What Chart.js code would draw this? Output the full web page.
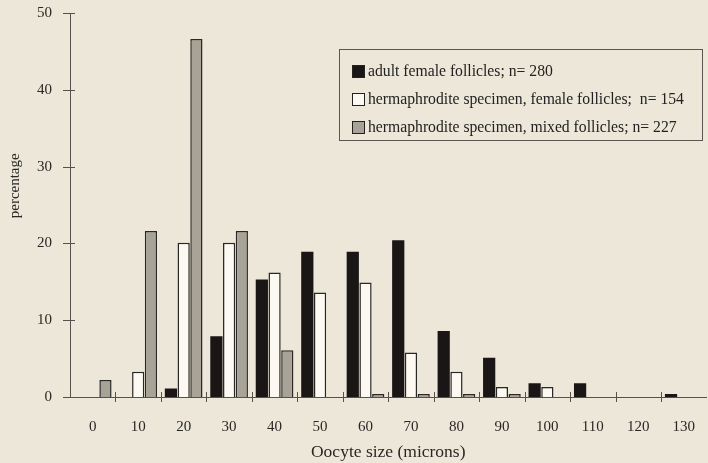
<!DOCTYPE html>
<html>
<head>
<meta charset="utf-8">
<script src="https://cdn.jsdelivr.net/npm/chart.js@4"></script>
<style>
  body { margin: 0; background: #ece7d8; }
  #wrap { position: relative; width: 708px; height: 463px; }
  #legend {
    position: absolute; left: 339px; top: 49px; width: 364px; height: 92px;
    border: 1px solid #5a5750; box-sizing: border-box;
    font-family: "Liberation Serif", serif; font-size: 15.7px; color: #222;
  }
  .legend-item { position: absolute; left: 12px; display: flex; align-items: center; white-space: pre; }
  .legend-box { width: 13px; height: 13px; box-sizing: border-box; border: 1px solid #222; margin-right: 3px; }
</style>
</head>
<body>
<div id="wrap">
  <canvas id="chart"></canvas>
  <div id="legend"></div>
</div>
<script>
// Oocyte size distributions, percentages per 10-micron class
const sizeLabels = ['0', '10', '20', '30', '40', '50', '60', '70', '80', '90', '100', '110', '120', '130'];
const adultFemale = [0, 0, 1.1, 7.9, 15.3, 18.9, 18.9, 20.4, 8.6, 5.1, 1.8, 1.8, 0, 0.4];
const hermFemale = [0, 3.3, 20.1, 20.1, 16.2, 13.6, 14.9, 5.8, 3.3, 1.3, 1.3, 0, 0, 0];
const hermMixed = [2.2, 21.6, 46.6, 21.6, 6.1, 0, 0.4, 0.4, 0.4, 0.4, 0, 0, 0, 0];
const yTicks = [0, 10, 20, 30, 40, 50];

const seriesNames = [
    'adult female follicles; n= 280',
    'hermaphrodite specimen, female follicles;  n= 154',
    'hermaphrodite specimen, mixed follicles; n= 227',
];
const FILLS = ['#1b1616', '#fbf9f2', '#a7a497'];
const INK = '#2a2826';
const FONT = '"Liberation Serif", serif';

const datasets = [adultFemale, hermFemale, hermMixed].map((vals, i) => ({
    label: seriesNames[i],
    data: vals,
    backgroundColor: FILLS[i],
    borderColor: INK,
    borderWidth: i === 0 ? 0 : 1.5,
    categoryPercentage: 0.84,
    barPercentage: 0.96,
}));

// Tick marks crossing the axis lines, plus the y title
const crossTicks = {
    id: 'crossTicks',
    afterDraw(chart) {
        const { ctx, scales: { x, y }, chartArea } = chart;
        ctx.save();
        ctx.strokeStyle = '#55524c';
        ctx.lineWidth = 1;
        ctx.beginPath();
        for (const v of yTicks) {
            const py = Math.round(y.getPixelForValue(v)) + 0.5;
            ctx.moveTo(chartArea.left - 7, py);
            ctx.lineTo(chartArea.left + 5, py);
        }
        for (let i = 0; i < sizeLabels.length - 1; i++) {
            const px = Math.round((x.getPixelForValue(i) + x.getPixelForValue(i + 1)) / 2) + 0.5;
            ctx.moveTo(px, chartArea.bottom - 5);
            ctx.lineTo(px, chartArea.bottom + 5);
        }
        ctx.moveTo(chartArea.left - 4, Math.round(chartArea.bottom) + 0.5);
        ctx.lineTo(chartArea.left, Math.round(chartArea.bottom) + 0.5);
        ctx.stroke();

        ctx.translate(15, y.getPixelForValue(27.5));
        ctx.rotate(-Math.PI / 2);
        ctx.font = '15px ' + FONT;
        ctx.fillStyle = INK;
        ctx.textAlign = 'center';
        ctx.textBaseline = 'middle';
        ctx.fillText('percentage', 0, 0);
        ctx.restore();
    }
};

new Chart(document.getElementById('chart'), {
    type: 'bar',
    data: { labels: sizeLabels, datasets },
    options: {
        responsive: true,
        maintainAspectRatio: false,
        animation: false,
        layout: { padding: { top: 13, right: 0, left: 0, bottom: 0 } },
        plugins: { legend: { display: false }, tooltip: { enabled: false } },
        scales: {
            x: {
                offset: true,
                grid: { display: false },
                border: { display: true, color: '#55524c', width: 1 },
                ticks: { font: { family: FONT, size: 15 }, color: INK, padding: 13, maxRotation: 0 },
                title: { display: true, text: 'Oocyte size (microns)', font: { family: FONT, size: 17.5 }, color: INK, padding: { top: 2, bottom: 0 } },
                afterFit: s => { s.height = 66; },
            },
            y: {
                min: 0,
                max: 50,
                afterBuildTicks: s => { s.ticks = yTicks.map(v => ({ value: v })); },
                grid: { display: false },
                border: { display: true, color: '#55524c', width: 1 },
                ticks: { font: { family: FONT, size: 15 }, color: INK, padding: 10 },
                afterFit: s => { s.width = 70; s.paddingTop = 0; s.paddingBottom = 0; },
            },
        },
    },
    plugins: [crossTicks],
});

// HTML legend
document.getElementById('legend').innerHTML = seriesNames.map((name, i) =>
    `<div class="legend-item" style="top:${12 + i * 28}px"><div class="legend-box" style="background:${FILLS[i]}"></div>${name}</div>`
).join('');
</script>
</body>
</html>
